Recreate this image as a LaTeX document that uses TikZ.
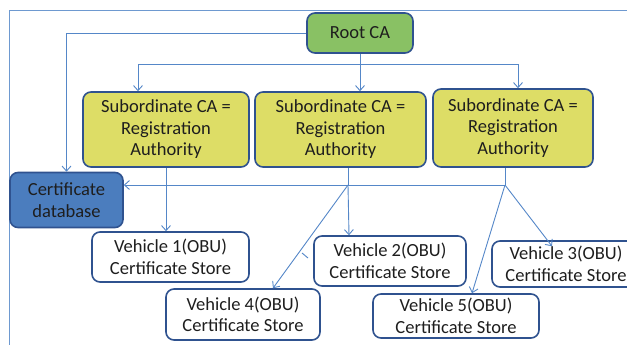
\documentclass[tikz,border=0pt]{standalone}
\usepackage{fontspec}
\setmainfont{Carlito}
\usepackage{tikz}
\usetikzlibrary{arrows.meta}

\definecolor{rootgreen}{RGB}{137,193,100}
\definecolor{subyellow}{RGB}{221,221,102}
\definecolor{dbblue}{RGB}{75,125,190}
\definecolor{edgeblue}{RGB}{47,82,143}
\definecolor{linkblue}{RGB}{85,135,200}
\definecolor{textdark}{RGB}{30,30,30}

\begin{document}
\begin{tikzpicture}[x=1pt,y=-1pt,
  box/.style={draw=edgeblue,line width=1.6pt,rounded corners=8pt,align=center,
    inner sep=0pt,text=textdark,font=\fontsize{18.5}{21.5}\selectfont},
  rootbox/.style={box,fill=rootgreen},
  subbox/.style={box,fill=subyellow},
  dbbox/.style={box,fill=dbblue},
  vehbox/.style={box,fill=white},
  link/.style={draw=linkblue,line width=0.9pt},
  >={Straight Barb[length=5pt,width=9pt]}]
  \clip (0,0) rectangle (627,345);
  \useasboundingbox (0,0) rectangle (627,345);
  \draw[linkblue!85,line width=1pt] (9,345) -- (9,11) -- (627,11);

  \node[rootbox,minimum width=106pt,minimum height=40pt] (root) at (360,33) {Root CA};
  \node[subbox,minimum width=166pt,minimum height=75pt] (sub1) at (166,129.5)
    {Subordinate CA =\\Registration\\Authority};
  \node[subbox,minimum width=171pt,minimum height=75pt] (sub2) at (340.5,129.5)
    {Subordinate CA =\\Registration\\Authority};
  \node[subbox,minimum width=160pt,minimum height=78pt] (sub3) at (513,128)
    {Subordinate CA =\\Registration\\Authority};
  \node[dbbox,minimum width=113pt,minimum height=55pt] (db) at (66.5,200)
    {Certificate\\database};
  \node[vehbox,minimum width=157pt,minimum height=50pt] (veh1) at (170.5,257)
    {Vehicle 1(OBU)\\Certificate Store};
  \node[vehbox,minimum width=152pt,minimum height=50pt] (veh2) at (390,261)
    {Vehicle 2(OBU)\\Certificate Store};
  \node[vehbox,minimum width=148pt,minimum height=46pt] (veh3) at (566,264)
    {Vehicle 3(OBU)\\Certificate Store};
  \node[vehbox,minimum width=154pt,minimum height=51pt] (veh4) at (243,314.5)
    {Vehicle 4(OBU)\\Certificate Store};
  \node[vehbox,minimum width=166pt,minimum height=44pt] (veh5) at (456,316)
    {Vehicle 5(OBU)\\Certificate Store};

  \coordinate (rb) at (360,64);
  \coordinate (j2) at (348,185);
  \coordinate (j3) at (505,185);

  % root down to the three authorities and the database
  \draw[link,->] (root.west) -| (db.north);
  \draw[link,->] (root.south) -- (rb) -| ([xshift=-28pt]sub1.north);
  \draw[link,->] (rb) -| ([xshift=5pt]sub3.north);
  \draw[link,->] (rb) -- (rb |- sub2.north);

  % authorities to vehicles
  \draw[link,->] (sub1.south) -- (sub1.south |- veh1.north);
  \draw[link] (j2 |- sub2.south) -- (j2);
  \draw[link] (j3 |- sub3.south) -- (j3);
  \draw[link,->] (j3) -- (db.east |- j3);
  \draw[link,->] (j2) -- ([xshift=-41pt]veh2.north);
  \draw[link,->] (j2) -- ([xshift=30pt]veh4.north);
  \draw[link,->] (j3) -- ([xshift=16pt]veh5.north);
  \draw[link,->] (j3) -- ([xshift=-14pt,yshift=-6pt]veh3.north);
  \draw[link] (302,253) -- (308,258);
\end{tikzpicture}
\end{document}
